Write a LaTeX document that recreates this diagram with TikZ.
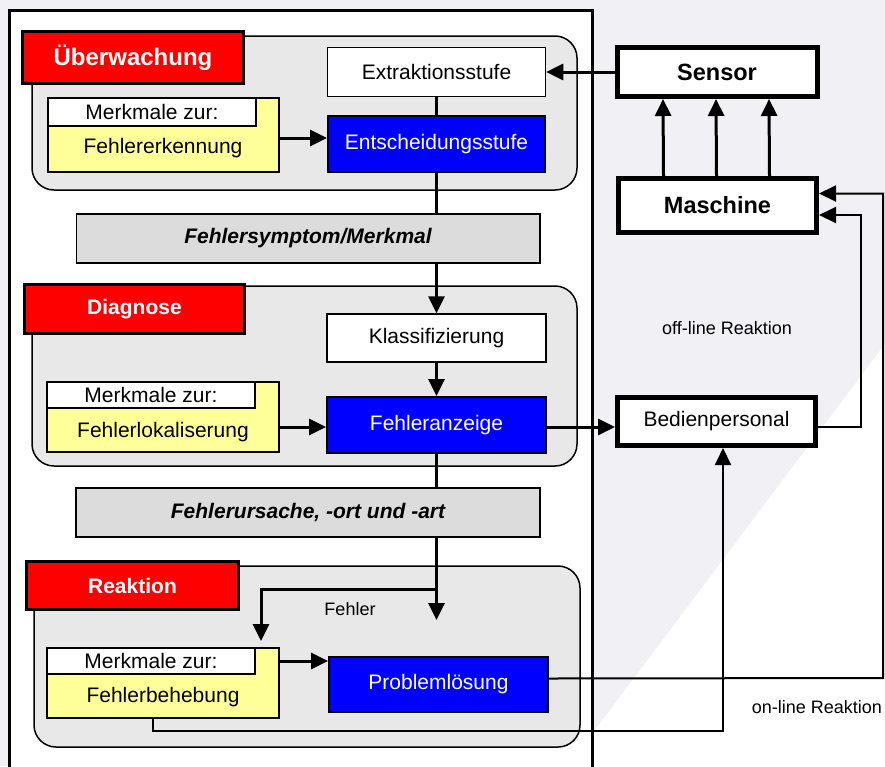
\documentclass[tikz,border=0pt]{standalone}
\usepackage{fontspec}
\setmainfont{Liberation Sans}
\usetikzlibrary{arrows.meta}
\definecolor{bglav}{HTML}{F0F0F5}
\definecolor{pangray}{HTML}{E8E8E8}
\definecolor{bargray}{HTML}{DCDCDC}
\definecolor{yel}{HTML}{FFFF99}
\begin{document}
\begin{tikzpicture}[x=1pt,y=-1pt,
  txt/.style={font=\fontsize{21}{24}\selectfont},
  sm/.style={font=\fontsize{18}{21}\selectfont},
  wh/.style={draw, line width=1.5pt, fill=white, txt},
  bl/.style={draw, line width=2pt, fill=blue, text=white, txt},
  rd/.style={draw, line width=3pt, fill=red, text=white, font=\fontsize{21}{24}\bfseries\selectfont},
  ye/.style={draw, line width=1.5pt, fill=yel},
  br/.style={draw, line width=1.5pt, fill=bargray, font=\fontsize{21}{24}\bfseries\itshape\selectfont},
  pn/.style={draw, line width=1.5pt, fill=pangray, rounded corners=22pt},
  mb/.style={draw, line width=5pt, fill=white, font=\fontsize{23.5}{27}\bfseries\selectfont},
  sz/.style 2 args={minimum width=#1pt, minimum height=#2pt, inner sep=0pt},
  ln/.style={line width=3pt},
  arr/.style={line width=3pt, -{Triangle[length=17pt 0 0,width=16pt 0 0]}},
  arrt/.style={line width=2pt, -{Triangle[length=17pt 0 0,width=16pt 0 0]}}
]
\useasboundingbox (0,0) rectangle (885,766);
\clip (0,0) rectangle (885,766);
% background
\fill[bglav] (0,0) rectangle (885,766);
\fill[white] (885,344) -- (885,766) -- (568,766) -- cycle;
% outer frame
\draw[line width=3pt, fill=white] (9.5,10) rectangle (592,800);

% Ueberwachung
\node[pn, sz={545}{154}] (p1) at (304.5,113) {};
\node[rd, sz={221}{52}, font=\fontsize{24}{28}\bfseries\selectfont] (ueb) at (133,57.5) {Überwachung};
\node[wh, sz={218}{49}] (extr) at (436.5,72) {Extraktionsstufe};
\node[bl, sz={217}{56}] (ents) at (436.5,144) {\raisebox{4pt}{Entscheidungsstufe}};
\node[ye, sz={231}{74}] (y1) at (163.5,135) {};
\node[wh, sz={208}{28}] (y1l) at (152,112) {Merkmale zur:};
\node[txt] (y1t) at (163,148) {Fehlererkennung};

\node[br, sz={463.5}{49}] (b1) at (308,238.5) {Fehlersymptom/Merkmal};

% Diagnose
\node[pn, sz={545}{180}] (p2) at (304.5,376) {};
\node[rd, sz={220}{49}] (diag) at (134.5,309) {Diagnose};
\node[wh, sz={219}{48}] (klass) at (436.5,338) {Klassifizierung};
\node[bl, sz={219}{56}] (fanz) at (436.5,425) {\raisebox{3pt}{Fehleranzeige}};
\node[ye, sz={232}{70}] (y2) at (163,417) {};
\node[wh, sz={208}{26}] (y2l) at (151,395) {Merkmale zur:};
\node[txt] (y2t) at (163,432) {Fehlerlokaliserung};

\node[br, sz={464}{49}] (b2) at (308,512.5) {Fehlerursache, -ort und -art};

% Reaktion
\node[pn, sz={546}{181}] (p3) at (307,656.5) {};
\node[rd, sz={212}{48}] (reak) at (132.5,585.5) {Reaktion};
\node[ye, sz={232}{70}] (y3) at (163,683) {};
\node[wh, sz={208}{26}] (y3l) at (151,661) {Merkmale zur:};
\node[txt] (y3t) at (163,697) {Fehlerbehebung};
\node[bl, sz={219}{55}] (prob) at (438.5,684.5) {\raisebox{3pt}{Problemlösung}};
\node[sm] (fl) at (350,609) {Fehler};

% right side
\node[mb, sz={200}{49}] (sensor) at (717,72) {Sensor};
\node[mb, sz={198}{54}] (masch) at (717.5,205.5) {Maschine};
\node[mb, sz={198}{48}, font=\fontsize{21}{24}\selectfont] (bed) at (716.5,421.5) {Bedienpersonal};
\node[sm] (off) at (727,328) {off-line Reaktion};
\node[sm] (on) at (817,707) {on-line Reaktion};

\coordinate (fork) at (436.5,589);
\coordinate (ftip) at (436.5,620);
\coordinate (btip) at (261,641);
\coordinate (rr) at (883,678);
\coordinate (r2) at (861,427);
\coordinate (lo) at (723,731);

% connectors
\draw[arr] (sensor.west) -- (extr.east);
\draw[ln] (extr.south) -- (ents.north);
\draw[arr] ([yshift=-3pt]y1.east) -- ([yshift=-3pt]y1.east -| ents.west);
\draw[ln] (ents.south) -- (ents.south |- b1.north);
\draw[arr] (b1.south -| klass.north) -- (klass.north);
\draw[arr] (klass.south) -- (fanz.north);
\draw[arr] ([yshift=-10pt]y2.east) -- ([yshift=-10pt]y2.east -| fanz.west);
\draw[arr] ([yshift=-2pt]fanz.east) -- ([yshift=-2pt]fanz.east -| bed.west);
\draw[ln] (fanz.south) -- (fanz.south |- b2.north);
\draw[arr] (b2.south -| fork) -- (ftip);
\draw[arr] (fork) -| (btip);
\draw[arr] (y3l.east -| y3.east) -- (y3l.east -| prob.west);
\foreach \dx in {-54,-1,52}
  \draw[arr] ([xshift=\dx pt]masch.north) -- ([xshift=\dx pt]sensor.south);
\draw[arrt] ([yshift=6pt]prob.east) -- (rr) |- ([yshift=12pt]masch.east);
\draw[arrt] ([yshift=-5.5pt]bed.east) -- (r2) |- ([yshift=-9.5pt]masch.east);
\draw[arrt] ([xshift=-10pt]y3.south) |- (lo) -- (lo |- bed.south);
\end{tikzpicture}
\end{document}
